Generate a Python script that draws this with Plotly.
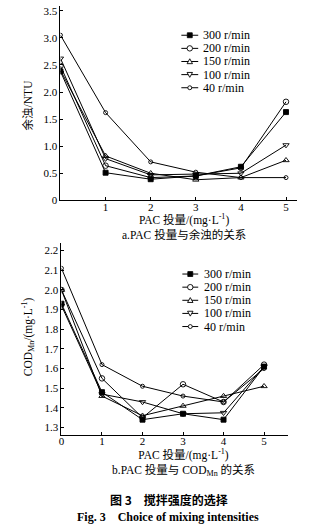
import plotly.graph_objects as go

# ---------------- data ----------------
dose = [0, 1, 2, 3, 4, 5]
series_names = ["300 r/min", "200 r/min", "150 r/min", "100 r/min", "40 r/min"]

turb_300 = [2.38, 0.51, 0.39, 0.45, 0.62, 1.63]
turb_200 = [2.48, 0.64, 0.42, 0.45, 0.60, 1.82]
turb_150 = [2.40, 0.82, 0.50, 0.38, 0.42, 0.74]
turb_100 = [2.62, 0.77, 0.47, 0.48, 0.50, 1.02]
turb_40 = [3.05, 1.62, 0.71, 0.52, 0.42, 0.42]

cod_300 = [1.93, 1.48, 1.34, 1.37, 1.34, 1.61]
cod_200 = [2.00, 1.55, 1.35, 1.52, 1.43, 1.62]
cod_150 = [2.00, 1.46, 1.36, 1.41, 1.46, 1.51]
cod_100 = [1.92, 1.47, 1.43, 1.37, 1.375, 1.61]
cod_40 = [2.11, 1.62, 1.51, 1.46, 1.43, 1.60]

top_ticks = [0, 0.5, 1.0, 1.5, 2.0, 2.5, 3.0, 3.5]
top_ticklabels = ["0", "0.5", "1.0", "1.5", "2.0", "2.5", "3.0", "3.5"]
bot_ticks = [1.3, 1.4, 1.5, 1.6, 1.7, 1.8, 1.9, 2.0, 2.1, 2.2]
bot_ticklabels = ["1.3", "1.4", "1.5", "1.6", "1.7", "1.8", "1.9", "2.0", "2.1", "2.2"]

# ---------------- styles ----------------
W, H = 329, 530
SERIF = "Liberation Serif, Times New Roman, Noto Sans CJK SC, serif"
CJK = "Noto Sans CJK SC, Liberation Serif, serif"
symbols = ["square", "circle-open", "triangle-up-open", "triangle-down-open", "circle-open"]
sizes = [5, 5.5, 5.5, 5.5, 4]


def px(x):
    return x / W


def py(y):
    return 1 - y / H


fig = go.Figure()
top_data = [turb_300, turb_200, turb_150, turb_100, turb_40]
bot_data = [cod_300, cod_200, cod_150, cod_100, cod_40]
for name, ys, sym, sz in zip(series_names, top_data, symbols, sizes):
    fig.add_trace(go.Scatter(x=dose, y=ys, name=name, mode="lines+markers", showlegend=False,
                             line=dict(color="black", width=1),
                             marker=dict(symbol=sym, size=sz, color="black",
                                         line=dict(color="black", width=0.9)),
                             xaxis="x", yaxis="y"))
for name, ys, sym, sz in zip(series_names, bot_data, symbols, sizes):
    fig.add_trace(go.Scatter(x=dose, y=ys, name=name, mode="lines+markers", showlegend=False,
                             line=dict(color="black", width=1),
                             marker=dict(symbol=sym, size=sz, color="black",
                                         line=dict(color="black", width=0.9)),
                             xaxis="x2", yaxis="y2"))

axis_common = dict(showgrid=False, zeroline=False, showline=True, linecolor="black",
                   linewidth=1, ticks="inside", ticklen=3, tickcolor="black",
                   tickfont=dict(family=SERIF, size=11, color="black"))

fig.update_layout(
    width=W, height=H, margin=dict(l=0, r=0, t=0, b=0),
    paper_bgcolor="white", plot_bgcolor="white", showlegend=False,
    xaxis=dict(domain=[px(58), px(297)], range=[0, 5.25], anchor="y",
               tickvals=[1, 2, 3, 4, 5], ticklabelstandoff=-4, **axis_common),
    yaxis=dict(domain=[py(202), py(5)], range=[0, 3.59], anchor="x",
               tickvals=top_ticks, ticktext=top_ticklabels, **axis_common),
    xaxis2=dict(domain=[px(59), px(288)], range=[0, 5.6], anchor="y2",
                tickvals=[0, 1, 2, 3, 4, 5], ticklabelstandoff=-4, **axis_common),
    yaxis2=dict(domain=[py(440), py(245)], range=[1.261, 2.24], anchor="x2",
                tickvals=bot_ticks, ticktext=bot_ticklabels, **axis_common),
)

ann = [
    dict(text="余浊/NTU", x=px(25), y=py(105), textangle=-90, font=dict(family=SERIF, size=11.5)),
    dict(text="PAC 投量/(mg·L<sup>-1</sup>)<br>a.PAC 投量与余浊的关系", x=px(183), y=py(229),
         font=dict(family=SERIF, size=11.5)),
    dict(text="COD<sub>Mn</sub>/(mg·L<sup>-1</sup>)", x=px(25), y=py(340), textangle=-90,
         font=dict(family=SERIF, size=11.5)),
    dict(text="PAC 投量/(mg·L<sup>-1</sup>)<br>b.PAC 投量与 COD<sub>Mn</sub> 的关系", x=px(182), y=py(468),
         font=dict(family=SERIF, size=11.5)),
    dict(text="<b>图 3　搅拌强度的选择</b>", x=px(168), y=py(505), font=dict(family=CJK, size=12)),
    dict(text="<b>Fig. 3　Choice of mixing intensities</b>", x=px(167), y=py(523),
         font=dict(family=SERIF, size=12)),
]

# ---------------- custom compact legends ----------------
shapes = []
legend_specs = [  # (line start x, line end x, text x, first row y) in pixels
    (180, 197, 200, 34.7),
    (181, 197, 201, 276.7),
]
ROW = 13.3
for (lx0, lx1, tx, y0) in legend_specs:
    mx = (lx0 + lx1) / 2
    for i, (name, sym, sz) in enumerate(zip(series_names, symbols, sizes)):
        yy = y0 + i * ROW
        shapes.append(dict(type="line", xref="paper", yref="paper",
                           x0=px(lx0), x1=px(lx1), y0=py(yy), y1=py(yy),
                           line=dict(color="black", width=1)))
        r = sz / 2
        if sym == "square":
            shapes.append(dict(type="rect", xref="paper", yref="paper",
                               x0=px(mx - r), x1=px(mx + r), y0=py(yy + r), y1=py(yy - r),
                               fillcolor="black", line=dict(color="black", width=0.8)))
        elif sym == "circle-open":
            shapes.append(dict(type="circle", xref="paper", yref="paper",
                               x0=px(mx - r), x1=px(mx + r), y0=py(yy + r), y1=py(yy - r),
                               fillcolor="white", line=dict(color="black", width=0.9)))
        else:
            if sym == "triangle-up-open":
                pts = [(mx, yy - r), (mx - r, yy + r * 0.8), (mx + r, yy + r * 0.8)]
            else:
                pts = [(mx, yy + r), (mx - r, yy - r * 0.8), (mx + r, yy - r * 0.8)]
            path = "M {} {} L {} {} L {} {} Z".format(*[v for p in pts for v in (px(p[0]), py(p[1]))])
            shapes.append(dict(type="path", xref="paper", yref="paper", path=path,
                               fillcolor="white", line=dict(color="black", width=0.9)))
        ann.append(dict(text=name, x=px(tx), y=py(yy), xanchor="left",
                        font=dict(family=SERIF, size=12)))

for a in ann:
    a.update(xref="paper", yref="paper", showarrow=False, yanchor="middle")
    a.setdefault("xanchor", "center")
    a["font"]["color"] = "black"
fig.update_layout(annotations=ann, shapes=shapes)

fig.write_html("out.html")
